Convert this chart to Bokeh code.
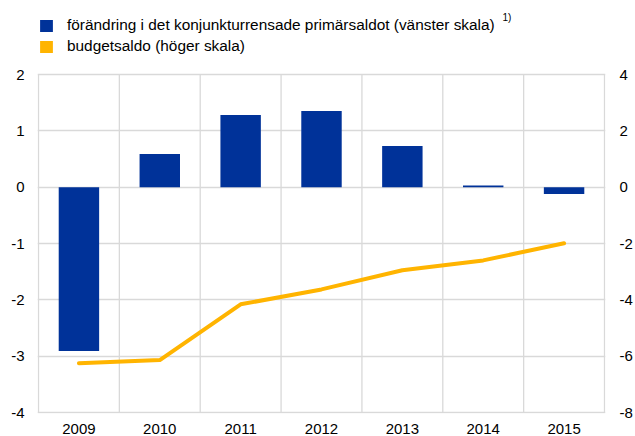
from bokeh.plotting import figure
from bokeh.models import (Range1d, LinearAxis, FixedTicker, Legend, LegendItem,
                          ColumnDataSource, Label)
from bokeh.embed import file_html
from bokeh.resources import INLINE

# ---- data ----
years = ["2009", "2010", "2011", "2012", "2013", "2014", "2015"]
primary_change = [-2.91, 0.59, 1.28, 1.35, 0.73, 0.03, -0.12]   # left scale
budget_balance = [-6.25, -6.14, -4.16, -3.63, -2.95, -2.60, -1.99]  # right scale
left_ticks = [-4, -3, -2, -1, 0, 1, 2]
right_ticks = [-8, -6, -4, -2, 0, 2, 4]
label_bars = "förändring i det konjunkturrensade primärsaldot (vänster skala)"
label_line = "budgetsaldo (höger skala)"
footnote = "1)"

BLUE = "#003299"
YELLOW = "#FFB400"
GRID = "#d9d9d9"
FONT = "Liberation Sans"

# ---- layout constants (pixels) ----
W, H = 635, 436
FRAME_TOP = 8          # frame extends up to hold the legend
DATA_TOP = 74          # pixel row of left value 2
DATA_BOTTOM = 412      # pixel row of left value -4
FRAME_BOTTOM = 413
LEFT, RIGHT = 37, 29   # borders; data area starts 1px inside
n = len(years)

ppu = (DATA_BOTTOM - DATA_TOP) / (left_ticks[-1] - left_ticks[0])
y_lo = left_ticks[0] - (FRAME_BOTTOM - DATA_BOTTOM) / ppu
y_hi = left_ticks[-1] + (DATA_TOP - FRAME_TOP) / ppu
ratio = (right_ticks[-1] - right_ticks[0]) / (left_ticks[-1] - left_ticks[0])
r_lo = right_ticks[0] + (y_lo - left_ticks[0]) * ratio
r_hi = right_ticks[-1] + (y_hi - left_ticks[-1]) * ratio
xppu = (W - LEFT - RIGHT - 2) / n
x_pad = 1 / xppu

xpos = [i + 0.5 for i in range(n)]
src = ColumnDataSource(dict(x=xpos, bar=primary_change, bal=budget_balance))

p = figure(width=W, height=H, output_backend="svg", toolbar_location=None,
           x_range=Range1d(-x_pad, n + x_pad), y_range=Range1d(y_lo, y_hi),
           min_border_left=LEFT, min_border_right=RIGHT, min_border_top=FRAME_TOP,
           min_border_bottom=H - FRAME_BOTTOM)
p.extra_y_ranges = {"right": Range1d(r_lo, r_hi)}
p.outline_line_color = None

# grid: horizontal via Grid, vertical/frame edges as segments within data area
p.xgrid.visible = False
p.ygrid.ticker = FixedTicker(ticks=left_ticks)
p.ygrid.grid_line_color = GRID
p.ygrid.grid_line_width = 1.3
bounds = list(range(n + 1))
p.segment(x0=bounds, x1=bounds, y0=[left_ticks[0]] * len(bounds),
          y1=[left_ticks[-1]] * len(bounds), line_color=GRID, line_width=1.3)

bars = p.vbar(x="x", top="bar", bottom=0, width=0.5, source=src,
              fill_color=BLUE, line_color=None)
line = p.line(x="x", y="bal", source=src, y_range_name="right",
              line_color=YELLOW, line_width=4, line_cap="round", line_join="round")
dummy = p.vbar(x=[0], top=[0], bottom=[0], width=0.01, fill_color=YELLOW, line_color=None)

# axes
p.xaxis.ticker = FixedTicker(ticks=xpos)
p.xaxis.major_label_overrides = {x: y for x, y in zip(xpos, years)}
p.yaxis.ticker = FixedTicker(ticks=left_ticks)
p.yaxis.major_label_overrides = {t: str(t) for t in left_ticks}
right_axis = LinearAxis(y_range_name="right", ticker=FixedTicker(ticks=right_ticks),
                        major_label_overrides={t: str(t) for t in right_ticks})
p.add_layout(right_axis, "right")

for ax in [p.xaxis[0], p.yaxis[0], right_axis]:
    ax.axis_line_color = None
    ax.major_tick_line_color = None
    ax.minor_tick_line_color = None
    ax.major_tick_out = 0
    ax.major_tick_in = 0
    ax.major_label_text_font = FONT
    ax.major_label_text_font_size = "15px"
    ax.major_label_text_color = "black"
p.xaxis.major_label_standoff = 10
p.yaxis[0].major_label_standoff = 13
right_axis.major_label_standoff = 14

legend = Legend(items=[LegendItem(label=label_bars, renderers=[bars]),
                       LegendItem(label=label_line, renderers=[dummy])],
                location=(1, 358), orientation="vertical",
                border_line_color=None, background_fill_alpha=0,
                padding=0, margin=0, spacing=3,
                glyph_width=16, glyph_height=15, label_standoff=13,
                label_height=15,
                label_text_font=FONT, label_text_font_size="15.4px",
                label_text_color="black")
p.add_layout(legend, "center")
p.add_layout(Label(x=465, y=396, x_units="screen", y_units="screen", text=footnote,
                   text_font=FONT, text_font_size="10px", text_color="black",
                   text_baseline="middle"))

open("out.html", "w").write(file_html(p, INLINE))
